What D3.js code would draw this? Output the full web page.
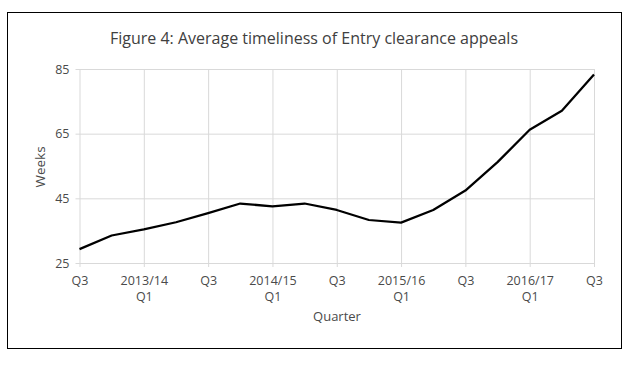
<!DOCTYPE html>
<html>
<head>
<meta charset="utf-8">
<script src="https://cdn.jsdelivr.net/npm/d3@7"></script>
<style>
    body { margin: 0; background: #fff; }
    #chart text { font-family: "Open Sans", "Liberation Sans", sans-serif; fill: #4a4a4a; }
    .grid line { stroke: #d9d9d9; stroke-width: 1; }
    .axis path { display: none; }
    .axis line { stroke: #d9d9d9; }
    .line { fill: none; stroke: #000; stroke-width: 2.25; stroke-linejoin: round; }
</style>
</head>
<body>
<div id="chart"></div>
<script>
// Quarters shown on the x axis (financial years)
const quarters = [
    "2012/13 Q3", "2012/13 Q4",
    "2013/14 Q1", "2013/14 Q2", "2013/14 Q3", "2013/14 Q4",
    "2014/15 Q1", "2014/15 Q2", "2014/15 Q3", "2014/15 Q4",
    "2015/16 Q1", "2015/16 Q2", "2015/16 Q3", "2015/16 Q4",
    "2016/17 Q1", "2016/17 Q2", "2016/17 Q3"
];

// Average timeliness in weeks
const weeks = [29.3, 33.5, 35.4, 37.6, 40.4, 43.4, 42.5, 43.4, 41.4, 38.3, 37.5, 41.4, 47.4, 56.2, 66.2, 72.1, 83.3];

// Labelled ticks and their (two line) labels
const tickQuarters = ["2012/13 Q3", "2013/14 Q1", "2013/14 Q3", "2014/15 Q1", "2014/15 Q3",
                      "2015/16 Q1", "2015/16 Q3", "2016/17 Q1", "2016/17 Q3"];
const tickLabels = [["Q3"], ["2013/14", "Q1"], ["Q3"], ["2014/15", "Q1"], ["Q3"],
                    ["2015/16", "Q1"], ["Q3"], ["2016/17", "Q1"], ["Q3"]];
const yTicks = [25, 45, 65, 85];

const title = "Figure 4: Average timeliness of Entry clearance appeals";

const W = 642, H = 366;
const margin = {top: 69, right: 48, bottom: 103, left: 79.5};
const width = W - margin.left - margin.right;
const height = H - margin.top - margin.bottom;

const svg = d3.select("#chart")
              .append("svg")
              .attr("width", W)
              .attr("height", H);

// Outer frame
svg.append("rect")
   .attr("x", 7.5).attr("y", 12.5)
   .attr("width", 614).attr("height", 336)
   .attr("fill", "none")
   .attr("stroke", "#000")
   .attr("stroke-width", 1);

// Title
svg.append("text")
   .attr("x", 314).attr("y", 44)
   .attr("text-anchor", "middle")
   .style("font-size", "16px")
   .style("fill", "#404040")
   .text(title);

const g = svg.append("g")
             .attr("transform", `translate(${margin.left},${margin.top})`);

// Scales
const x = d3.scalePoint().domain(quarters).range([0, width]);
const y = d3.scaleLinear().domain([25, 85]).range([height, 0]);

// Horizontal gridlines with little ticks to the left
g.append("g")
 .attr("class", "grid axis")
 .call(d3.axisLeft(y).tickValues(yTicks).tickSize(-width).tickPadding(10))
 .call(a => a.selectAll("line").attr("x1", -4).attr("x2", width))
 .call(a => a.selectAll("text").style("font-size", "12.5px"));

// Vertical gridlines with ticks below the axis
const xAxis = g.append("g")
 .attr("class", "grid axis")
 .attr("transform", `translate(0,${height})`)
 .call(d3.axisBottom(x).tickValues(tickQuarters).tickSize(4).tickFormat(""));

xAxis.selectAll(".tick line").attr("y1", -height).attr("y2", 4);

xAxis.selectAll(".tick").each(function(d, i) {
    const t = d3.select(this).append("text")
                .attr("text-anchor", "middle")
                .style("font-size", "12.5px");
    tickLabels[i].forEach((s, j) => {
        t.append("tspan").attr("x", 0).attr("y", 22 + j * 16).text(s);
    });
});

// The line
g.append("path")
 .datum(weeks)
 .attr("class", "line")
 .attr("d", d3.line()
     .x((d, i) => x(quarters[i]))
     .y(d => y(d)));

// Axis titles
svg.append("text")
   .attr("x", 337).attr("y", 321)
   .attr("text-anchor", "middle")
   .style("font-size", "13px")
   .text("Quarter");

svg.append("text")
   .attr("transform", "translate(45,167) rotate(-90)")
   .attr("text-anchor", "middle")
   .style("font-size", "13.5px")
   .text("Weeks");
</script>
</body>
</html>
